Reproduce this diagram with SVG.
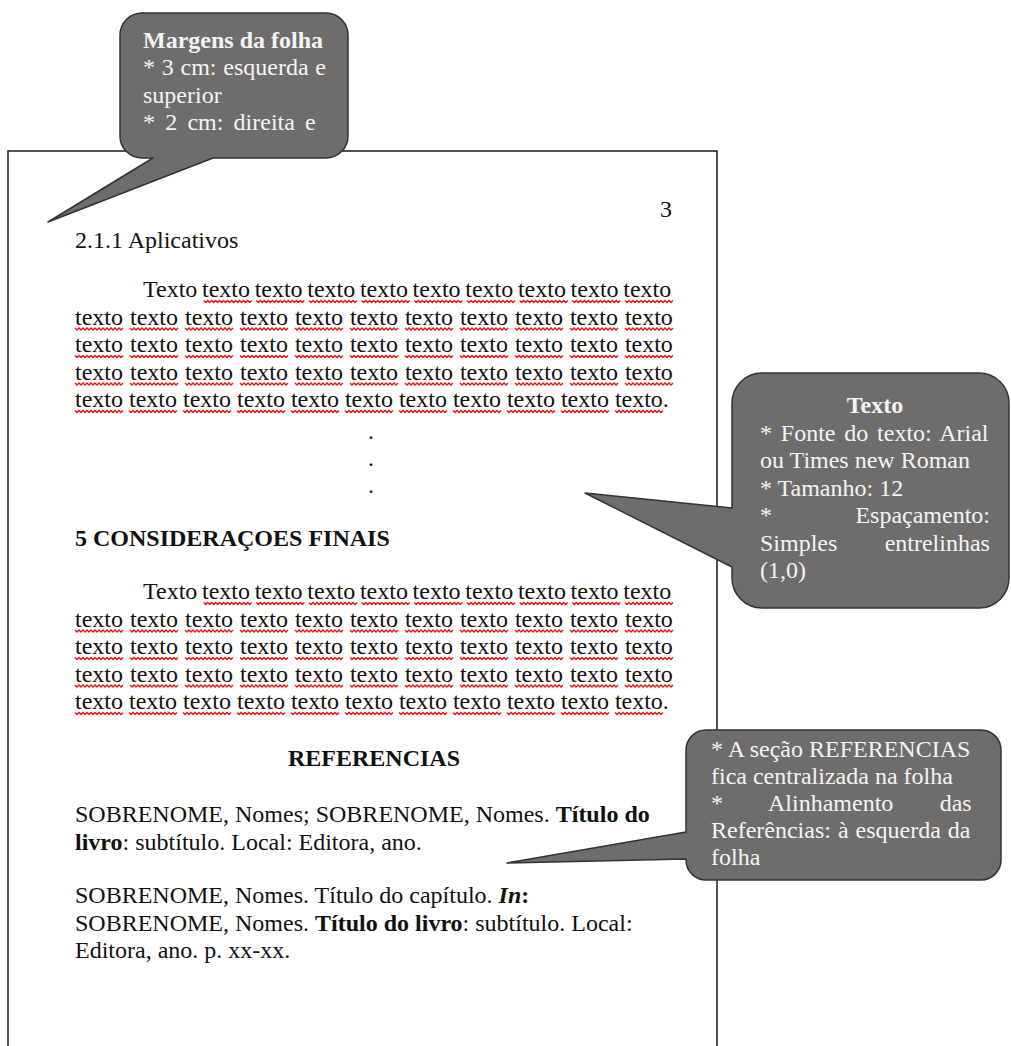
<svg xmlns="http://www.w3.org/2000/svg" xmlns:xlink="http://www.w3.org/1999/xlink" width="1011" height="1046" viewBox="0 0 1011 1046">
<style>
  .t { font-family: 'Liberation Serif','Times New Roman',serif; font-size: 24px; fill: #111; }
  .b { font-weight: bold; }
  .c { font-family: 'Liberation Serif','Times New Roman',serif; font-size: 24px; fill: #f4f4f4; }
  .callout { fill: #6f6c6c; stroke: #333; stroke-width: 1.5; stroke-linejoin: round; }
  .page { fill: none; stroke: #1a1a1a; stroke-width: 1.5; }
  .sq { fill: none; stroke: #f01010; stroke-width: 1.3; }
</style>
<defs>
  <path id="sq" class="sq" d="M0 0 l2 2 l2 -2 l2 2 l2 -2 l2 2 l2 -2 l2 2 l2 -2 l2 2 l2 -2 l2 2 l2 -2 l2 2 l2 -2 l2 2 l2 -2 l2 2 l2 -2 l2 2 l2 -2 l2 2 l2 -2 l2 2 l2 -2"/>
  <g id="row-first">
    <use href="#sq" x="203.7"/><use href="#sq" x="256.3"/><use href="#sq" x="309"/><use href="#sq" x="361.7"/><use href="#sq" x="414.3"/><use href="#sq" x="467"/><use href="#sq" x="519.7"/><use href="#sq" x="572.3"/><use href="#sq" x="625"/>
  </g>
  <g id="row-j">
    <use href="#sq" x="75"/><use href="#sq" x="130"/><use href="#sq" x="185"/><use href="#sq" x="240"/><use href="#sq" x="295"/><use href="#sq" x="350"/><use href="#sq" x="405"/><use href="#sq" x="460"/><use href="#sq" x="515"/><use href="#sq" x="570"/><use href="#sq" x="625"/>
  </g>
  <g id="row-last">
    <use href="#sq" x="75"/><use href="#sq" x="129"/><use href="#sq" x="183"/><use href="#sq" x="237"/><use href="#sq" x="291"/><use href="#sq" x="345"/><use href="#sq" x="399"/><use href="#sq" x="453"/><use href="#sq" x="507"/><use href="#sq" x="561"/><use href="#sq" x="615"/>
  </g>
</defs>
<rect width="1011" height="1046" fill="#fff"/>

<g id="page">
  <path class="page" d="M8 1046 V151 H717 V1046"/>
  <text class="t" x="660" y="217">3</text>
  <text class="t" x="75" y="248">2.1.1 Aplicativos</text>

  <g id="paragraph-1">
    <text class="t" x="143" y="297" word-spacing="-1.33">Texto texto texto texto texto texto texto texto texto texto</text>
    <text class="t" x="75" y="324.5" word-spacing="1">texto texto texto texto texto texto texto texto texto texto texto</text>
    <text class="t" x="75" y="352" word-spacing="1">texto texto texto texto texto texto texto texto texto texto texto</text>
    <text class="t" x="75" y="379.5" word-spacing="1">texto texto texto texto texto texto texto texto texto texto texto</text>
    <text class="t" x="75" y="407">texto texto texto texto texto texto texto texto texto texto texto.</text>
    <use href="#row-first" y="300.5"/>
    <use href="#row-j" y="328"/>
    <use href="#row-j" y="355.5"/>
    <use href="#row-j" y="383"/>
    <use href="#row-last" y="410.5"/>
  </g>

  <text class="t" x="371" y="439" text-anchor="middle">.</text>
  <text class="t" x="371" y="466" text-anchor="middle">.</text>
  <text class="t" x="371" y="493" text-anchor="middle">.</text>

  <text class="t b" x="75" y="546">5 CONSIDERAÇOES FINAIS</text>

  <g id="paragraph-2">
    <text class="t" x="143" y="599" word-spacing="-1.33">Texto texto texto texto texto texto texto texto texto texto</text>
    <text class="t" x="75" y="626.5" word-spacing="1">texto texto texto texto texto texto texto texto texto texto texto</text>
    <text class="t" x="75" y="654" word-spacing="1">texto texto texto texto texto texto texto texto texto texto texto</text>
    <text class="t" x="75" y="681.5" word-spacing="1">texto texto texto texto texto texto texto texto texto texto texto</text>
    <text class="t" x="75" y="709">texto texto texto texto texto texto texto texto texto texto texto.</text>
    <use href="#row-first" y="602.5"/>
    <use href="#row-j" y="630"/>
    <use href="#row-j" y="657.5"/>
    <use href="#row-j" y="685"/>
    <use href="#row-last" y="712.5"/>
  </g>

  <text class="t b" x="374" y="766" text-anchor="middle">REFERENCIAS</text>

  <g id="references">
    <text class="t" x="75" y="822">SOBRENOME, Nomes; SOBRENOME, Nomes. <tspan class="b">Título do</tspan></text>
    <text class="t" x="75" y="849.5"><tspan class="b">livro</tspan>: subtítulo. Local: Editora, ano.</text>
    <text class="t" x="75" y="903">SOBRENOME, Nomes. Título do capítulo. <tspan class="b" font-style="italic">In</tspan><tspan class="b">:</tspan></text>
    <text class="t" x="75" y="930.5">SOBRENOME, Nomes. <tspan class="b">Título do livro</tspan>: subtítulo. Local:</text>
    <text class="t" x="75" y="958">Editora, ano. p. xx-xx.</text>
  </g>
</g>

<g id="callout-margens">
  <path class="callout" d="M142 13 H326 A22 22 0 0 1 348 35 V136 A22 22 0 0 1 326 158 H213 L48 222 L153 158 H142 A22 22 0 0 1 120 136 V35 A22 22 0 0 1 142 13 Z"/>
  <text class="c b" x="143" y="47.5">Margens da folha</text>
  <text class="c" x="143" y="75" word-spacing="0.75">* 3 cm: esquerda e</text>
  <text class="c" x="143" y="102.5">superior</text>
  <text class="c" x="143" y="130" word-spacing="4.2">* 2 cm: direita e</text>
</g>

<g id="callout-texto">
  <path class="callout" d="M762 373 H979 A30 30 0 0 1 1009 403 V578 A30 30 0 0 1 979 608 H762 A30 30 0 0 1 732 578 V567 L585 493 L732 508 V403 A30 30 0 0 1 762 373 Z"/>
  <text class="c b" x="875" y="413" text-anchor="middle">Texto</text>
  <text class="c" x="760" y="440.5" word-spacing="2.8">* Fonte do texto: Arial</text>
  <text class="c" x="760" y="468">ou Times new Roman</text>
  <text class="c" x="760" y="495.5">* Tamanho: 12</text>
  <text class="c" x="760" y="523" word-spacing="77.4">* Espaçamento:</text>
  <text class="c" x="760" y="550.5" word-spacing="41.3">Simples entrelinhas</text>
  <text class="c" x="760" y="578">(1,0)</text>
</g>

<g id="callout-referencias">
  <path class="callout" d="M706 730 H981 A20 20 0 0 1 1001 750 V860 A20 20 0 0 1 981 880 H706 A20 20 0 0 1 686 860 V859 L507 863 L686 832 V750 A20 20 0 0 1 706 730 Z"/>
  <text class="c" x="711" y="757">* A seção REFERENCIAS</text>
  <text class="c" x="711" y="784">fica centralizada na folha</text>
  <text class="c" x="711" y="811" word-spacing="40.35">* Alinhamento das</text>
  <text class="c" x="711" y="838" word-spacing="1">Referências: à esquerda da</text>
  <text class="c" x="711" y="865">folha</text>
</g>
</svg>
